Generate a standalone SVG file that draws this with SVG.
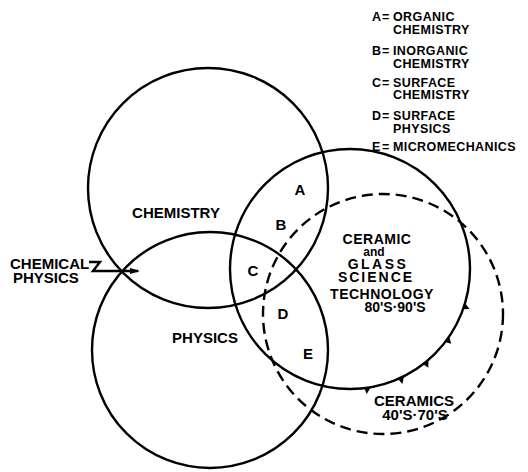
<svg xmlns="http://www.w3.org/2000/svg" width="528" height="472" viewBox="0 0 528 472">
<style>
  .c{fill:none;stroke:#000;stroke-width:2.4}
  .d{fill:none;stroke:#000;stroke-width:2.4;stroke-dasharray:11 6}
  .t{font-family:"Liberation Sans",Arial,sans-serif;font-weight:bold;fill:#000}
  .lg{font-size:12.5px}
  .lb{font-size:15px}
  .cb{font-size:14px}
  .m{text-anchor:middle}
</style>
<rect width="528" height="472" fill="#fff"/>
<g id="chemistry">
  <circle class="c" cx="208" cy="188" r="120"/>
  <text class="t lb m" x="176" y="218">CHEMISTRY</text>
</g>
<g id="physics">
  <circle class="c" cx="210" cy="350" r="118"/>
  <text class="t lb m" x="205" y="343">PHYSICS</text>
</g>
<g id="ceramic-glass">
  <circle class="c" cx="350" cy="269" r="120"/>
  <text class="t cb m" x="377" y="244" letter-spacing="0.5">CERAMIC</text>
  <text class="t m" x="374" y="256" font-size="12">and</text>
  <text class="t cb m" x="378" y="269" letter-spacing="2.5">GLASS</text>
  <text class="t cb m" x="376" y="282" letter-spacing="2">SCIENCE</text>
  <text class="t cb m" x="382" y="299" letter-spacing="0.5">TECHNOLOGY</text>
  <text class="t cb m" x="395" y="312">80'S·90'S</text>
  <g id="hachures" fill="#000">
    <polygon points="465.0,303.0 463.2,309.2 469.6,309.0"/>
    <polygon points="449.0,336.5 445.0,342.0 451.3,343.7"/>
    <polygon points="428.4,359.9 423.3,364.2 428.4,367.7"/>
    <polygon points="404.1,376.0 398.0,379.0 402.4,383.9"/>
    <polygon points="370.8,387.2 364.2,388.1 366.7,394.0"/>
  </g>
</g>
<g id="ceramics-40s-70s">
  <circle class="d" cx="383" cy="314" r="120"/>
  <text class="t lb m" x="414" y="406">CERAMICS</text>
  <text class="t lb m" x="415" y="420">40'S·70'S</text>
</g>
<g id="region-letters">
  <text class="t lb m" x="300" y="195">A</text>
  <text class="t lb m" x="281" y="230">B</text>
  <text class="t lb m" x="253" y="276">C</text>
  <text class="t lb m" x="283" y="319">D</text>
  <text class="t lb m" x="308" y="359">E</text>
</g>
<g id="chemical-physics">
  <text class="t lb" x="10" y="269">CHEMICAL</text>
  <text class="t lb" x="13" y="283">PHYSICS</text>
</g>
<g id="connectors">
  <path d="M89,262 L100,262 L93,271 L138,271" fill="none" stroke="#000" stroke-width="2.4"/>
  <path d="M130,268 L140,271 L130,274 Z" fill="#000"/>
</g>
<g id="legend">
  <text class="t lg" x="372" y="21">A</text><text class="t lg" x="382" y="21">=</text><text class="t lg" x="393" y="21" letter-spacing="0.4">ORGANIC</text>
  <text class="t lg" x="393" y="34" letter-spacing="0.4">CHEMISTRY</text>
  <text class="t lg" x="372" y="55">B</text><text class="t lg" x="382" y="55">=</text><text class="t lg" x="393" y="55" letter-spacing="0.4">INORGANIC</text>
  <text class="t lg" x="393" y="68" letter-spacing="0.4">CHEMISTRY</text>
  <text class="t lg" x="372" y="87">C</text><text class="t lg" x="382" y="87">=</text><text class="t lg" x="393" y="87" letter-spacing="0.4">SURFACE</text>
  <text class="t lg" x="393" y="99" letter-spacing="0.4">CHEMISTRY</text>
  <text class="t lg" x="372" y="120">D</text><text class="t lg" x="382" y="120">=</text><text class="t lg" x="393" y="120" letter-spacing="0.4">SURFACE</text>
  <text class="t lg" x="393" y="133" letter-spacing="0.4">PHYSICS</text>
  <text class="t lg" x="372" y="151">E</text><text class="t lg" x="382" y="151">=</text><text class="t lg" x="393" y="151" letter-spacing="0.4">MICROMECHANICS</text>
</g>
</svg>
